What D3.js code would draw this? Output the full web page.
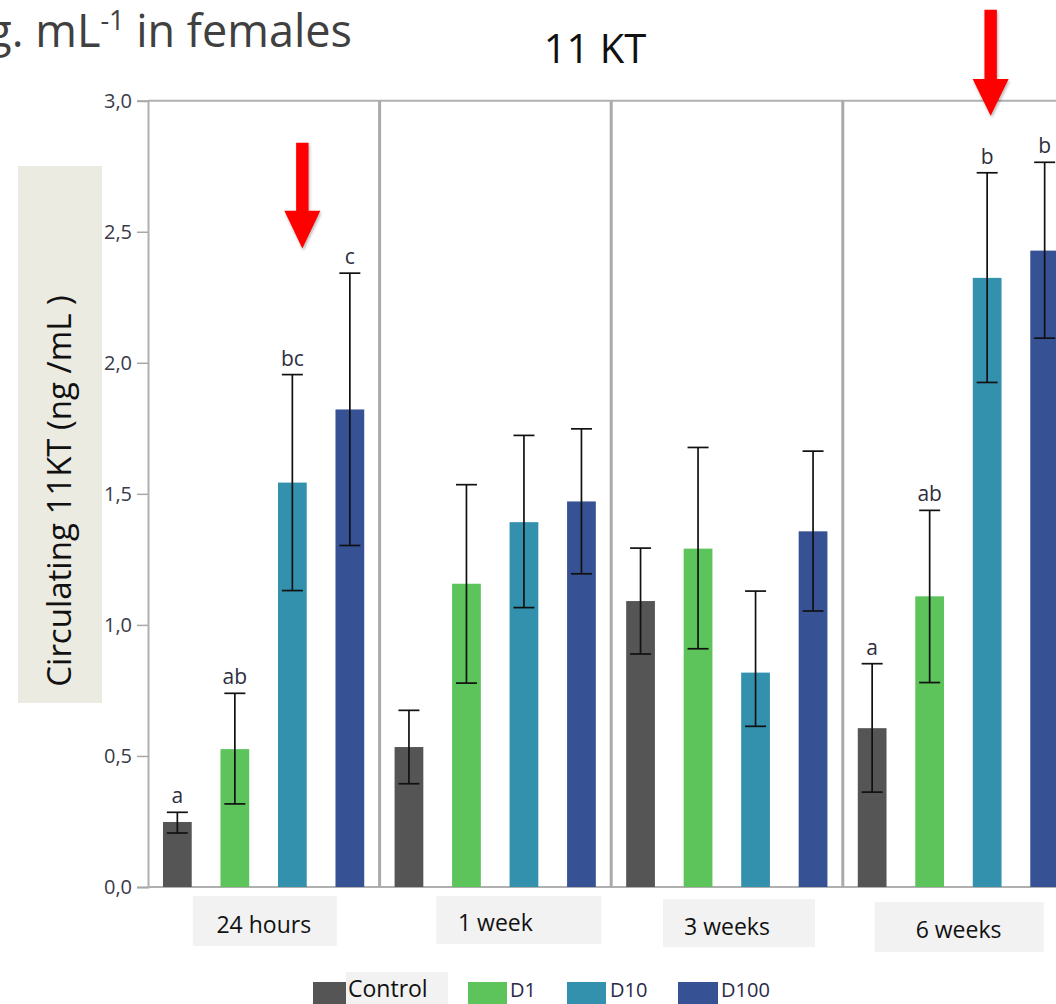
<!DOCTYPE html>
<html>
<head>
<meta charset="utf-8">
<script src="https://cdn.jsdelivr.net/npm/d3@7"></script>
<style>
  html, body { margin: 0; padding: 0; background: #fff; overflow: hidden; }
  svg { display: block; font-family: "Open Sans", "Noto Sans", sans-serif; }
</style>
</head>
<body>
<svg id="chart" width="1056" height="1004"></svg>
<script>
// ---------- data ----------
const groups = ["24 hours", "1 week", "3 weeks", "6 weeks"];
const treatments = ["Control", "D1", "D10", "D100"];

const controlMean = [0.248, 0.534, 1.091, 0.606];
const controlLow  = [0.206, 0.394, 0.889, 0.362];
const controlHigh = [0.285, 0.674, 1.293, 0.852];

const d1Mean = [0.526, 1.157, 1.291, 1.109];
const d1Low  = [0.317, 0.778, 0.909, 0.780];
const d1High = [0.739, 1.535, 1.677, 1.437];

const d10Mean = [1.543, 1.392, 0.818, 2.324];
const d10Low  = [1.131, 1.066, 0.613, 1.925];
const d10High = [1.955, 1.723, 1.129, 2.725];

const d100Mean = [1.822, 1.471, 1.357, 2.428];
const d100Low  = [1.303, 1.195, 1.053, 2.094];
const d100High = [2.342, 1.748, 1.663, 2.765];

const letters24h = ["a", "ab", "bc", "c"];
const letters6w  = ["a", "ab", "b", "b"];

const yTicks = [0, 0.5, 1.0, 1.5, 2.0, 2.5, 3.0];
const yTickLabels = ["0,0", "0,5", "1,0", "1,5", "2,0", "2,5", "3,0"];

const titleText = "11 KT";
const yAxisTitle = "Circulating 11KT (ng /mL )";

// ---------- styles / layout ----------
const colors = { Control: "#555555", D1: "#5cc45a", D10: "#3491ad", D100: "#375294" };
const W = 1056, H = 1004;
const plotLeft = 148, panelW = 231.6, plotTop = 100.7, plotBottom = 887;

const svg = d3.select("#chart");

const table = [];
const means = [controlMean, d1Mean, d10Mean, d100Mean];
const lows = [controlLow, d1Low, d10Low, d100Low];
const highs = [controlHigh, d1High, d10High, d100High];
const letterSets = [letters24h, null, null, letters6w];
groups.forEach((g, gi) => {
  treatments.forEach((t, ti) => {
    table.push({
      group: g, treatment: t,
      mean: means[ti][gi], low: lows[ti][gi], high: highs[ti][gi],
      letter: letterSets[gi] ? letterSets[gi][ti] : null
    });
  });
});

// scales
const y = d3.scaleLinear().domain([0, 3]).range([plotBottom, plotTop]);
const x0 = d3.scaleBand().domain(groups).range([plotLeft, plotLeft + panelW * groups.length]).padding(0);
const x1 = d3.scaleBand().domain(treatments).range([0.6, 230.6]).paddingInner(0.5).paddingOuter(0.25);

// y axis title box
svg.append("rect").attr("x", 18).attr("y", 166).attr("width", 84).attr("height", 537).attr("fill", "#ecebe2");
svg.append("text")
  .attr("transform", "translate(71,491) rotate(-90)")
  .attr("text-anchor", "middle")
  .attr("font-size", 33)
  .attr("fill", "#111")
  .text(yAxisTitle);

// frame: top line
svg.append("line").attr("x1", plotLeft).attr("x2", W).attr("y1", plotTop).attr("y2", plotTop)
  .attr("stroke", "#b0b0b0").attr("stroke-width", 2);

// y axis
const yAxis = d3.axisLeft(y).tickValues(yTicks).tickSize(11).tickPadding(5)
  .tickFormat((d, i) => yTickLabels[i]);
const gy = svg.append("g").attr("transform", `translate(${plotLeft},0)`).call(yAxis);
gy.select(".domain").attr("stroke", "#b0b0b0").attr("stroke-width", 2);
gy.selectAll(".tick line").attr("stroke", "#a8a8a8").attr("stroke-width", 1.5);
gy.selectAll(".tick text").attr("font-size", 20).attr("fill", "#3a3a48")
  .attr("font-family", "'Open Sans', sans-serif");

// bottom axis line
svg.append("line").attr("x1", plotLeft).attr("x2", W).attr("y1", plotBottom).attr("y2", plotBottom)
  .attr("stroke", "#b0b0b0").attr("stroke-width", 2);

// panel separators
groups.slice(1).forEach(g => {
  const xs = x0(g);
  svg.append("line").attr("x1", xs).attr("x2", xs).attr("y1", plotTop).attr("y2", plotBottom)
    .attr("stroke", "#aaaaaa").attr("stroke-width", 3);
});

// bars
const barG = svg.append("g");
barG.selectAll("rect").data(table).join("rect")
  .attr("x", d => x0(d.group) + x1(d.treatment))
  .attr("width", x1.bandwidth())
  .attr("y", d => y(d.mean))
  .attr("height", d => y(0) - y(d.mean))
  .attr("fill", d => colors[d.treatment]);

// error bars
const capW = 21;
const errG = svg.append("g").attr("stroke", "#111").attr("stroke-width", 1.7).attr("fill", "none");
table.forEach(d => {
  const cx = x0(d.group) + x1(d.treatment) + x1.bandwidth() / 2;
  errG.append("line").attr("x1", cx).attr("x2", cx).attr("y1", y(d.high)).attr("y2", y(d.low));
  errG.append("line").attr("x1", cx - capW / 2).attr("x2", cx + capW / 2).attr("y1", y(d.high)).attr("y2", y(d.high));
  errG.append("line").attr("x1", cx - capW / 2).attr("x2", cx + capW / 2).attr("y1", y(d.low)).attr("y2", y(d.low));
});

// significance letters
svg.append("g").selectAll("text").data(table.filter(d => d.letter)).join("text")
  .attr("x", d => x0(d.group) + x1(d.treatment) + x1.bandwidth() / 2)
  .attr("y", d => y(d.high) - 9)
  .attr("text-anchor", "middle")
  .attr("font-size", 21)
  .attr("fill", "#2e2e3e")
  .text(d => d.letter);

// x category labels in grey boxes
const xLabelBoxes = [
  { dx: -71, w: 144, top: 896, h: 50, base: 933 },
  { dx: -59, w: 165, top: 896, h: 48, base: 931 },
  { dx: -64, w: 152, top: 899, h: 48, base: 935 },
  { dx: -84, w: 169, top: 902, h: 50, base: 938 }
];
groups.forEach((g, i) => {
  const cx = x0(g) + x0.bandwidth() / 2;
  const b = xLabelBoxes[i];
  svg.append("rect").attr("x", cx + b.dx).attr("y", b.top).attr("width", b.w).attr("height", b.h).attr("fill", "#f2f2f2");
  svg.append("text").attr("x", cx).attr("y", b.base).attr("text-anchor", "middle")
    .attr("font-size", 23).attr("fill", "#111").text(g);
});

// legend
const legendItems = [
  { t: "Control", sx: 313, sw: 33, tx: 348, box: [346, 972, 102, 40], fs: 23 },
  { t: "D1", sx: 468, sw: 39, tx: 510, fs: 20 },
  { t: "D10", sx: 567, sw: 39, tx: 610, fs: 20 },
  { t: "D100", sx: 678, sw: 40, tx: 721, fs: 20 }
];
legendItems.forEach(it => {
  if (it.box) svg.append("rect").attr("x", it.box[0]).attr("y", it.box[1]).attr("width", it.box[2]).attr("height", it.box[3]).attr("fill", "#f2f2f2");
  svg.append("rect").attr("x", it.sx).attr("y", 982).attr("width", it.sw).attr("height", 30).attr("fill", colors[it.t]);
  svg.append("text").attr("x", it.tx).attr("y", 997).attr("font-size", it.fs)
    .attr("fill", it.t === "Control" ? "#111" : "#2a2a48").text(it.t);
});

// title
svg.append("text").attr("x", 595).attr("y", 63).attr("text-anchor", "middle")
  .attr("font-size", 40).attr("fill", "#111").text(titleText);

// partial heading at top-left
const head = svg.append("text").attr("x", 352).attr("y", 47).attr("text-anchor", "end")
  .attr("font-size", 45).attr("fill", "#404040");
head.append("tspan").text("g. mL");
head.append("tspan").attr("font-size", 27).attr("dy", -17).text("-1");
head.append("tspan").attr("dy", 17).text(" in females");

// red arrows (annotations)
const defs = svg.append("defs");
const f = defs.append("filter").attr("id", "sh").attr("x", "-50%").attr("y", "-50%").attr("width", "200%").attr("height", "200%");
f.append("feDropShadow").attr("dx", 1).attr("dy", 2).attr("stdDeviation", 1.5).attr("flood-color", "#000").attr("flood-opacity", 0.3);
const arrows = [
  { group: "24 hours", treatment: "D10", dx: 10, top: 2.84, headTop: 2.58, tip: 2.436 },
  { group: "6 weeks", treatment: "D10", dx: 3.5, top: 3.347, headTop: 3.083, tip: 2.943 }
];
arrows.forEach(a => {
  const cx = x0(a.group) + x1(a.treatment) + x1.bandwidth() / 2 + a.dx;
  const sw = 6.2, hw = 18;
  const pts = [
    [cx - sw, y(a.top)], [cx + sw, y(a.top)], [cx + sw, y(a.headTop)], [cx + hw, y(a.headTop)],
    [cx, y(a.tip)], [cx - hw, y(a.headTop)], [cx - sw, y(a.headTop)]
  ];
  svg.append("path").attr("d", d3.line()(pts) + "Z").attr("fill", "#ff0000").attr("filter", "url(#sh)");
});
</script>
</body>
</html>
